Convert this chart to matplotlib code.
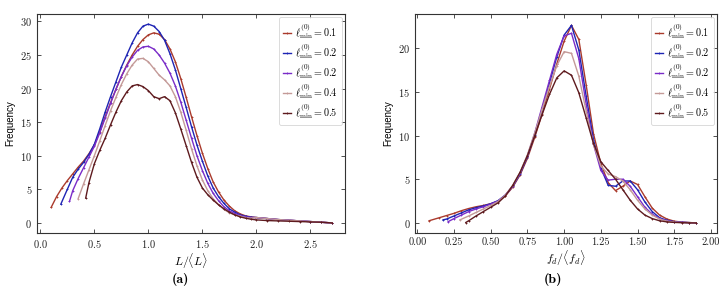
import matplotlib
matplotlib.use('Agg')
import matplotlib.pyplot as plt

plt.rcParams.update({
    "mathtext.fontset": "cm",
    "font.family": "serif",
    "font.serif": ["cmr10"],
    "axes.formatter.use_mathtext": True,
    "axes.unicode_minus": False,
})

labels = [r'$\ell^{(0)}_{\mathrm{min}} = 0.1$', r'$\ell^{(0)}_{\mathrm{min}} = 0.2$',
          r'$\ell^{(0)}_{\mathrm{min}} = 0.2$', r'$\ell^{(0)}_{\mathrm{min}} = 0.4$',
          r'$\ell^{(0)}_{\mathrm{min}} = 0.5$']
colors = ['#aa3a2c', '#1e24b4', '#7a2cc8', '#c49a98', '#5e1a1e']

# ---- panel (a): L / <L>
L_grid = [0.10, 0.15, 0.20, 0.25, 0.30, 0.35, 0.40, 0.45, 0.50, 0.55, 0.60, 0.65, 0.70,
          0.75, 0.80, 0.85, 0.90, 0.95, 1.00, 1.05, 1.10, 1.15, 1.20, 1.25, 1.30, 1.35,
          1.40, 1.45, 1.50, 1.55, 1.60, 1.65, 1.70, 1.75, 1.80, 1.85, 1.90, 1.95, 2.00,
          2.10, 2.20, 2.30, 2.40, 2.50, 2.60, 2.70]
L_tail = [0.8, 0.65, 0.5, 0.4, 0.3, 0.2, 0.1, 0.0]  # 2.00 .. 2.70

a_start = [0.10, 0.19, 0.27, 0.35, 0.42]
a_red = [2.3, 3.9, 5.2, 6.3, 7.3, 8.3, 9.2, 10.3, 11.6, 13.6, 15.8, 17.9, 19.9, 21.8, 23.5,
         25.0, 26.3, 27.3, 28.0, 28.3, 28.1, 27.3, 25.9, 24.0, 21.5, 18.7, 15.8, 13.0, 10.4,
         8.1, 6.1, 4.6, 3.4, 2.5, 1.8, 1.35, 1.05, 0.9]
a_blue = [2.8, 5.0, 6.8, 8.0, 9.0, 10.2, 11.7, 14.0, 16.5, 18.8, 21.0, 23.2, 25.0, 26.8,
          28.3, 29.3, 29.6, 29.3, 28.5, 27.2, 25.2, 22.8, 20.0, 17.2, 14.3, 11.6, 9.2, 7.0,
          5.2, 3.9, 2.9, 2.1, 1.6, 1.2, 1.0, 0.85]
a_purple = [3.2, 4.8, 6.6, 8.2, 9.8, 11.4, 13.4, 15.6, 17.8, 19.9, 21.8, 23.4, 24.7, 25.7,
            26.2, 26.3, 25.9, 25.0, 23.8, 22.3, 20.4, 18.0, 15.3, 12.6, 10.0, 7.8, 5.9,
            4.4, 3.3, 2.4, 1.8, 1.4, 1.1, 0.9, 0.8]
a_pink = [3.6, 5.8, 7.9, 10.0, 12.2, 14.5, 16.7, 18.7, 20.6, 22.2, 23.5, 24.4, 24.5, 24.0,
          23.0, 22.0, 21.3, 20.4, 18.8, 16.5, 13.8, 11.0, 8.5, 6.4, 4.8, 3.6, 2.7, 2.0,
          1.5, 1.2, 1.0, 0.8, 0.7]
a_maroon = [3.7, 6.0, 8.8, 10.8, 12.6, 14.6, 16.5, 18.2, 19.5, 20.4, 20.6, 20.3, 19.7, 18.8,
            18.5, 18.8, 18.2, 16.4, 14.0, 11.5, 9.0, 6.8, 5.2, 4.2, 3.4, 2.7, 2.1, 1.6,
            1.2, 0.9, 0.7, 0.55]
a_maroon_tail = [0.45, 0.35, 0.3, 0.25, 0.2, 0.15, 0.1, 0.0]

# ---- panel (b): f_d / <f_d>
F_grid = [0.15, 0.20, 0.25, 0.30, 0.35, 0.40, 0.45, 0.50, 0.55, 0.60, 0.65, 0.70, 0.75,
          0.80, 0.85, 0.90, 0.95, 1.00, 1.05, 1.10, 1.15, 1.20, 1.25, 1.30, 1.35, 1.40,
          1.45, 1.50, 1.55, 1.60, 1.65, 1.70, 1.75, 1.80, 1.85, 1.90]
b_start = [0.08, 0.175, 0.21, 0.29, 0.33]
b_red = [0.25, 0.6, 0.85, 1.1, 1.4, 1.65, 1.85, 2.0, 2.2, 2.5, 3.1, 4.1, 5.5, 7.4, 9.8, 12.5,
         15.3, 18.2, 20.8, 22.6, 21.0, 15.8, 10.2, 6.8, 4.6, 3.7, 4.2, 4.8, 4.4, 3.0, 1.7,
         0.9, 0.45, 0.2, 0.1, 0.05, 0.0]
b_blue = [0.35, 0.45, 0.8, 1.15, 1.5, 1.75, 1.95, 2.2, 2.55, 3.2, 4.2, 5.6, 7.6, 10.1, 13.0,
          16.0, 19.0, 21.5, 22.6, 19.8, 14.5, 9.5, 6.3, 4.3, 4.2, 4.8, 4.8, 3.8, 2.4, 1.3,
          0.6, 0.3, 0.15, 0.08, 0.04, 0.0]
b_purple = [0.15, 0.5, 0.9, 1.3, 1.6, 1.85, 2.15, 2.5, 3.2, 4.2, 5.7, 7.7, 10.3, 13.3, 16.3,
            19.3, 21.4, 21.7, 18.8, 13.6, 9.0, 6.0, 4.9, 5.0, 5.0, 4.2, 3.0, 1.8, 1.0, 0.5,
            0.25, 0.12, 0.06, 0.03, 0.0]
b_pink = [0.35, 0.8, 1.2, 1.6, 2.0, 2.45, 3.2, 4.3, 5.8, 7.8, 10.3, 13.0, 15.6, 18.0, 19.6,
          19.4, 16.8, 12.8, 9.0, 6.5, 5.6, 5.3, 4.8, 3.8, 2.6, 1.6, 0.9, 0.45, 0.2, 0.1,
          0.05, 0.02, 0.0]
b_maroon = [0.05, 0.25, 0.8, 1.3, 1.8, 2.3, 3.1, 4.3, 5.8, 7.7, 10.0, 12.4, 14.7, 16.6, 17.4,
            16.9, 14.9, 12.0, 9.1, 7.0, 6.0, 5.0, 3.8, 2.6, 1.6, 0.9, 0.5, 0.25, 0.12, 0.06,
            0.03, 0.01, 0.0]


def build_x(start, grid, n):
    # first point at its own start, rest on the shared grid
    xs = [start] + [g for g in grid if g > start + 0.015]
    return xs[:n]


fig = plt.figure(figsize=(7.27, 3.02), dpi=100)
ax1 = fig.add_axes([0.051, 0.2285, 0.4235, 0.725])
ax2 = fig.add_axes([0.571, 0.2285, 0.415, 0.725])

a_series = [a_red + L_tail, a_blue + L_tail, a_purple + L_tail,
            a_pink + L_tail, a_maroon + a_maroon_tail]
for s, ys, c, lab in zip(a_start, a_series, colors, labels):
    xs = build_x(s, L_grid, len(ys))
    ax1.plot(xs, ys, color=c, lw=1.0, marker='+', ms=2.0, mew=0.6, label=lab)

b_series = [b_red, b_blue, b_purple, b_pink, b_maroon]
for s, ys, c, lab in zip(b_start, b_series, colors, labels):
    xs = build_x(s, F_grid, len(ys))
    ax2.plot(xs, ys, color=c, lw=1.0, marker='+', ms=2.0, mew=0.6, label=lab)

ax1.set_xlim(-0.03, 2.82)
ax1.set_ylim(-1.5, 31.1)
ax1.set_xticks([0.0, 0.5, 1.0, 1.5, 2.0, 2.5])
ax1.set_yticks([0, 5, 10, 15, 20, 25, 30])
ax1.set_xlabel(r'$L/\langle L\rangle$', fontsize=8.5, labelpad=1)

ax2.set_xlim(-0.015, 2.04)
ax2.set_ylim(-1.15, 23.9)
ax2.set_xticks([0.0, 0.25, 0.5, 0.75, 1.0, 1.25, 1.5, 1.75, 2.0])
ax2.set_xticklabels(['0.00', '0.25', '0.50', '0.75', '1.00', '1.25', '1.50', '1.75', '2.00'])
ax2.set_yticks([0, 5, 10, 15, 20])
ax2.set_xlabel(r'$f_d/\langle f_d\rangle$', fontsize=8.5, labelpad=1)

for ax in (ax1, ax2):
    ax.tick_params(direction='in', top=True, right=True, length=3, width=0.6,
                   labelsize=7.5, colors='#333333', labelcolor='#222222')
    for sp in ax.spines.values():
        sp.set_color('#333333')
        sp.set_linewidth(0.8)
    ax.set_ylabel('Frequency', family='Liberation Sans', fontsize=7)
    ax.yaxis.set_label_coords(-0.072, 0.5)
    leg = ax.legend(loc='upper right', fontsize=7.3, handlelength=0.8, handletextpad=0.4,
                    labelspacing=0.0, borderpad=0.4, borderaxespad=0.3,
                    frameon=True, fancybox=True)
    leg.get_frame().set_edgecolor('#cccccc')
    leg.get_frame().set_linewidth(0.6)

fig.text(0.2476, 0.073, '(a)', family='cmb10', fontsize=10, ha='center', va='center')
fig.text(0.761, 0.073, '(b)', family='cmb10', fontsize=10, ha='center', va='center')

fig.savefig('out.png', dpi=100)
